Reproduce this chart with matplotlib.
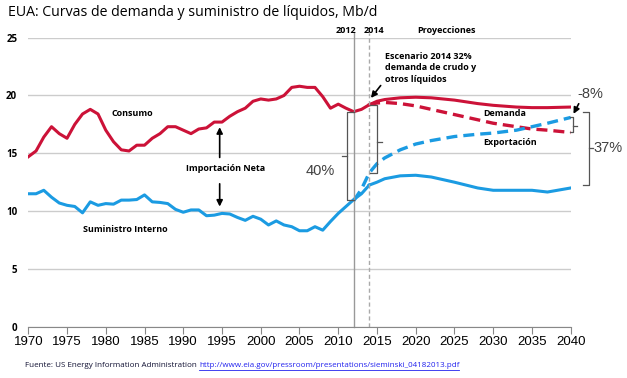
import numpy as np
import matplotlib.pyplot as plt

# Datos (Mb/d)
anios_hist = np.arange(1970, 2015)
consumo_hist = [14.7, 15.2, 16.4, 17.3, 16.7, 16.3, 17.5, 18.4, 18.8, 18.4,
                17.0, 16.0, 15.3, 15.2, 15.7, 15.7, 16.3, 16.7, 17.3, 17.3,
                17.0, 16.7, 17.1, 17.2, 17.7, 17.7, 18.2, 18.6, 18.9, 19.5,
                19.7, 19.6, 19.7, 20.0, 20.7, 20.8, 20.7, 20.7, 19.9, 18.9,
                19.25, 18.9, 18.6, 18.8, 19.2]
suministro_hist = [11.5, 11.5, 11.8, 11.2, 10.7, 10.5, 10.4, 9.85, 10.8, 10.5,
                   10.65, 10.6, 10.95, 10.95, 11.0, 11.4, 10.8, 10.75, 10.65, 10.15,
                   9.9, 10.1, 10.1, 9.6, 9.65, 9.8, 9.75, 9.45, 9.2, 9.55,
                   9.3, 8.8, 9.15, 8.8, 8.65, 8.3, 8.3, 8.65, 8.35, 9.1,
                   9.8, 10.4, 11.0, 11.5, 12.25]

anios_proy = [2014, 2015, 2016, 2018, 2020, 2022, 2025, 2028, 2030, 2033, 2035, 2037, 2040]
consumo_proy = [19.2, 19.5, 19.65, 19.8, 19.85, 19.8, 19.6, 19.3, 19.15, 19.0, 18.95, 18.95, 19.0]
demanda_esc = [19.2, 19.35, 19.4, 19.3, 19.1, 18.8, 18.35, 17.9, 17.6, 17.3, 17.1, 17.0, 16.8]
suministro_proy = [12.25, 12.5, 12.8, 13.05, 13.1, 12.95, 12.5, 12.0, 11.8, 11.8, 11.8, 11.65, 12.0]

anios_esc_sum = [2012, 2013, 2014, 2015, 2016, 2018, 2020, 2022, 2025, 2028, 2030, 2033, 2035, 2037, 2040]
suministro_esc = [10.9, 11.9, 13.3, 14.1, 14.6, 15.3, 15.8, 16.1, 16.45, 16.65, 16.75, 17.0, 17.3, 17.6, 18.1]

rojo = '#cc1238'
azul = '#1b9be2'
gris = '#404040'

fig = plt.figure(figsize=(6.27, 3.78), dpi=100)
ax = fig.add_axes([0.0451, 0.1357, 0.8651, 0.7646])

ax.plot(anios_hist, consumo_hist, color=rojo, lw=2.2, solid_joinstyle='round')
ax.plot(anios_proy, consumo_proy, color=rojo, lw=2.2)
ax.plot(anios_proy, demanda_esc, color=rojo, lw=2.4, ls=(0, (3.3, 1.8)))
ax.plot(anios_hist, suministro_hist, color=azul, lw=2.2, solid_joinstyle='round')
ax.plot(anios_proy, suministro_proy, color=azul, lw=2.2)
ax.plot(anios_esc_sum, suministro_esc, color=azul, lw=2.4, ls=(0, (3.3, 1.8)))

ax.set_xlim(1970, 2040)
ax.set_ylim(0, 25)
ax.set_yticks([0, 5, 10, 15, 20, 25])
ax.set_xticks(np.arange(1970, 2041, 5))
ax.grid(axis='y', color='#cccccc', lw=1)
ax.set_axisbelow(True)
for s in ['top', 'right', 'left']:
    ax.spines[s].set_visible(False)
ax.spines['bottom'].set_color('#888888')
ax.tick_params(axis='y', length=0, pad=8, labelsize=7)
ax.tick_params(axis='x', length=5, color='#888888', labelsize=9.5, pad=2)
for t in ax.get_yticklabels():
    t.set_fontweight('bold')
    t.set_family('Open Sans')
for t in ax.get_xticklabels():
    t.set_family('Liberation Sans')

# lineas verticales 2012 / 2014
ax.plot([2012, 2012], [0, 25.4], color='#999999', lw=1, clip_on=False)
ax.plot([2014, 2014], [0, 25.4], color='#aaaaaa', lw=1, ls=(0, (3, 2)), clip_on=False)

fb = dict(family='Open Sans', fontweight='bold', fontsize=6.5, color='black')
ax.text(2011.05, 25.65, '2012', ha='center', va='center', **fb)
ax.text(2014.55, 25.65, '2014', ha='center', va='center', **fb)
ax.text(2024.0, 25.65, 'Proyecciones', ha='center', va='center', **fb)

ax.text(1980.7, 18.45, 'Consumo', ha='left', va='center', **fb)
ax.text(1995.5, 13.7, 'Importación Neta', ha='center', va='center', **fb)
ax.text(1977.1, 8.45, 'Suministro Interno', ha='left', va='center', **fb)
ax.text(2028.7, 18.4, 'Demanda', ha='left', va='center', **fb)
ax.text(2028.7, 15.95, 'Exportación', ha='left', va='center', **fb)
ax.text(2016.0, 22.4, 'Escenario 2014 32%\ndemanda de crudo y\notros líquidos',
        ha='left', va='center', linespacing=1.35, **fb)

flecha = dict(arrowstyle='-|>', color='black', lw=1.2, mutation_scale=9)
ax.annotate('', xy=(1994.7, 17.5), xytext=(1994.7, 14.4), arrowprops=flecha)
ax.annotate('', xy=(1994.7, 10.15), xytext=(1994.7, 12.6), arrowprops=flecha)
ax.annotate('', xy=(2014.0, 19.6), xytext=(2015.7, 21.05), arrowprops=flecha)
ax.annotate('', xy=(2040.2, 18.2), xytext=(2041.2, 19.5), arrowprops=flecha,
            annotation_clip=False)

# llaves
def llave(x0, x1, y0, y1, xt, yt):
    ax.plot([x1, x0, x0, x1], [y0, y0, y1, y1], color='#555555', lw=0.9, clip_on=False)
    ax.plot([x0, xt], [yt, yt], color='#555555', lw=0.9, clip_on=False)

llave(2011.08, 2012.0, 18.6, 11.0, 2010.44, 14.8)
llave(2015.03, 2014.1, 19.2, 13.3, 2015.6, 16.0)
llave(2040.32, 2039.9, 18.1, 16.8, 2040.8, 17.4)
llave(2042.35, 2041.6, 18.6, 12.3, 2042.9, 15.45)

ft = dict(family='Liberation Sans', fontsize=10.5, color=gris)
ax.text(2009.6, 13.5, '40%', ha='right', va='center', **ft)
ax.text(2043.0, 15.45, '37%', ha='left', va='center', clip_on=False, **ft)
ax.text(2040.9, 20.1, '-8%', ha='left', va='center', clip_on=False, **ft)

fig.text(0.0128, 0.968, 'EUA: Curvas de demanda y suministro de líquidos, Mb/d',
         family='Open Sans', fontsize=10.2, ha='left', va='center')
t1 = fig.text(0.04, 0.034, 'Fuente: US Energy Information Administration ',
              family='Open Sans', fontsize=5.8, ha='left', va='center', color='#111133')
fig.canvas.draw()
bb = t1.get_window_extent()
x_link = bb.x1 / fig.bbox.width
t2 = fig.text(x_link, 0.034,
              'http://www.eia.gov/pressroom/presentations/sieminski_04182013.pdf',
              family='Open Sans', fontsize=5.8, ha='left', va='center', color='#2222ee')
fig.canvas.draw()
bb2 = t2.get_window_extent()
fig.add_artist(plt.Line2D([x_link, bb2.x1 / fig.bbox.width], [0.021, 0.021],
                          color='#2222ee', lw=0.6))

fig.savefig('out.png', dpi=100)
